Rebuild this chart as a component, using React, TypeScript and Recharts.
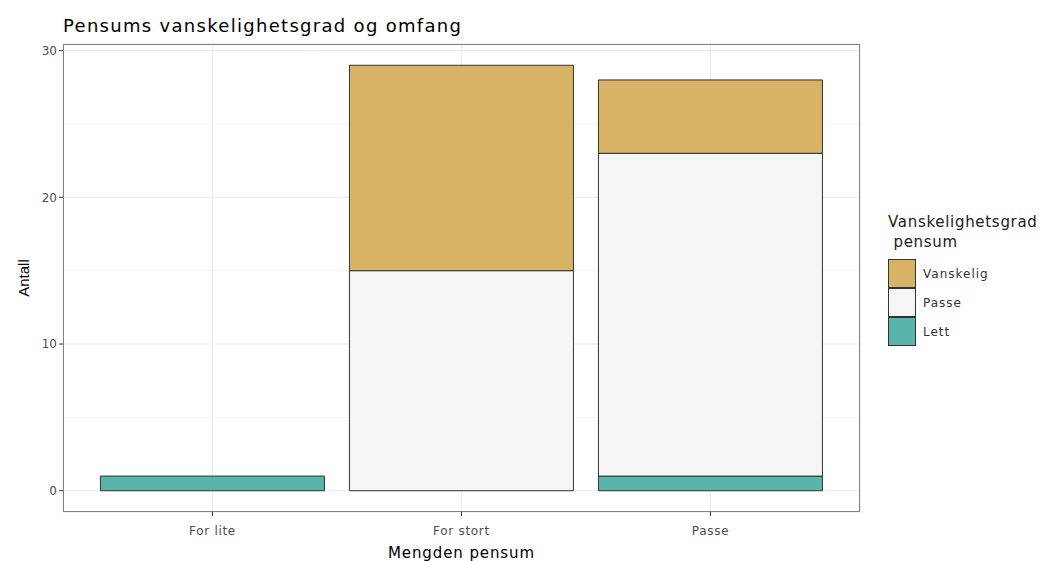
import React from 'react'
import {
  BarChart,
  Bar,
  XAxis,
  YAxis,
  CartesianGrid,
  Label,
} from 'recharts'

const categories = ['For lite', 'For stort', 'Passe']
const lett = [1, 0, 1]
const passe = [0, 15, 22]
const vanskelig = [0, 14, 5]

const yTicks = [0, 10, 20, 30]
const yMinor = [5, 15, 25]

const series = [
  { key: 'Lett', values: lett, color: '#5ab4ac' },
  { key: 'Passe', values: passe, color: '#f5f5f5' },
  { key: 'Vanskelig', values: vanskelig, color: '#d8b365' },
]

const data = categories.map((name, i) => {
  const row: Record<string, string | number> = { name }
  series.forEach((s) => {
    row[s.key] = s.values[i]
  })
  return row
})

const maxTotal = Math.max(...categories.map((_, i) => lett[i] + passe[i] + vanskelig[i]))
const pad = maxTotal * 0.05

const sans = '"Liberation Sans", Arial, sans-serif'
const wide = '"DejaVu Sans", Verdana, sans-serif'

const LegendBox = () => (
  <div
    style={{
      position: 'absolute',
      left: 888,
      top: 212,
      fontFamily: wide,
      color: '#1a1a1a',
    }}
  >
    <div style={{ fontSize: 15, lineHeight: '20px', letterSpacing: 0.7, marginBottom: 7, whiteSpace: 'pre' }}>
      {'Vanskelighetsgrad\n pensum'}
    </div>
    {[...series].reverse().map((s) => (
      <div key={s.key} style={{ display: 'flex', alignItems: 'center', height: 29 }}>
        <div
          style={{
            width: 28,
            height: 29,
            background: s.color,
            border: '1px solid #333',
            boxSizing: 'border-box',
          }}
        />
        <span style={{ fontSize: 12, marginLeft: 7, letterSpacing: 1, color: '#333' }}>{s.key}</span>
      </div>
    ))}
  </div>
)

export default function App() {
  return (
    <div style={{ position: 'absolute', left: 0, top: 0, width: 1041, height: 561, background: '#fff' }}>
      <div
        style={{
          position: 'absolute',
          left: 63,
          top: 15,
          fontFamily: wide,
          fontSize: 18,
          letterSpacing: 1.3,
          color: '#000',
          whiteSpace: 'nowrap',
        }}
      >
        Pensums vanskelighetsgrad og omfang
      </div>
      <BarChart
        width={1041}
        height={561}
        data={data}
        margin={{ top: 44, right: 181, left: 23, bottom: 0 }}
        barCategoryGap="5%"
      >
        {/* minor grid first, then major on top */}
        <CartesianGrid yAxisId="minor" vertical={false} stroke="#f3f3f3" strokeWidth={0.8} />
        <CartesianGrid stroke="#ebebeb" strokeWidth={1} />
        <XAxis
          dataKey="name"
          height={49}
          padding={{ left: 25, right: 25 }}
          axisLine={false}
          tickSize={4}
          tickMargin={10}
          tickLine={{ stroke: '#333' }}
          tick={{ fill: '#4d4d4d', fontSize: 12, fontFamily: wide, letterSpacing: 0.7 }}
        >
          <Label
            value="Mengden pensum"
            position="insideBottom"
            offset={3}
            style={{ fill: '#000', fontSize: 15, fontFamily: wide, letterSpacing: 0.9 }}
          />
        </XAxis>
        <YAxis
          width={40}
          domain={[-pad, maxTotal + pad]}
          allowDataOverflow
          ticks={yTicks}
          axisLine={false}
          tickSize={4}
          tickLine={{ stroke: '#333' }}
          tick={{ fill: '#4d4d4d', fontSize: 12, fontFamily: wide }}
        >
          <Label
            value="Antall"
            angle={-90}
            position="insideLeft"
            offset={1}
            style={{ fill: '#000', fontSize: 15, fontFamily: sans, textAnchor: 'middle' }}
          />
        </YAxis>
        <YAxis
          yAxisId="minor"
          hide
          domain={[-pad, maxTotal + pad]}
          allowDataOverflow
          ticks={yMinor}
        />
        {series.map((s) => (
          <Bar
            key={s.key}
            dataKey={s.key}
            stackId="a"
            fill={s.color}
            stroke="#333"
            strokeWidth={1}
            isAnimationActive={false}
          />
        ))}
      </BarChart>
      <div
        style={{
          position: 'absolute',
          left: 63,
          top: 44,
          width: 797,
          height: 468,
          border: '1.3px solid #808080',
          boxSizing: 'border-box',
          pointerEvents: 'none',
        }}
      />
      <LegendBox />
    </div>
  )
}
